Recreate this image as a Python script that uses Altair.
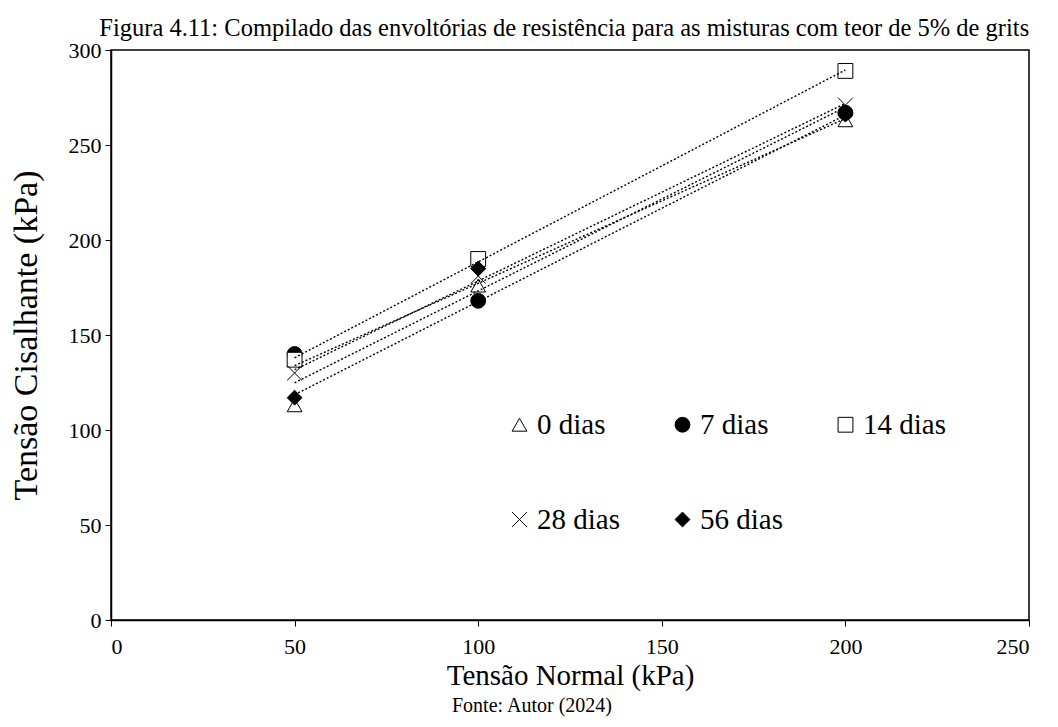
import altair as alt
import pandas as pd

# Data
tensao_normal = [50, 100, 200]
series_names = ["\u20090 dias", "\u20097 dias", "14 dias", "28 dias", "56 dias"]
dias_0 = [113, 176, 263]
dias_7 = [140, 168, 267]
dias_14 = [137, 190, 289]
dias_28 = [130, 181, 271]
dias_56 = [117, 185, 266]

values = [dias_0, dias_7, dias_14, dias_28, dias_56]
rows = []
for name, vals in zip(series_names, values):
    for xv, yv in zip(tensao_normal, vals):
        rows.append({"serie": name, "x": xv, "y": yv})
df = pd.DataFrame(rows)

FONT = "Liberation Serif"
X_SHAPE = "M-1,-1L1,1M-1,1L1,-1"

shape_scale = alt.Scale(domain=series_names,
                        range=["triangle-up", "circle", "square", X_SHAPE, "diamond"])
fill_scale = alt.Scale(domain=series_names,
                       range=["white", "black", "white", "transparent", "black"])
stroke_scale = alt.Scale(domain=series_names, range=["black"] * 5)

legend = alt.Legend(
    title=None, orient="none", legendX=394, legendY=360,
    direction="horizontal", columns=3,
    labelFont=FONT, labelFontSize=29, labelColor="black",
    symbolSize=220, symbolStrokeColor="black", symbolStrokeWidth=1,
    columnPadding=48, rowPadding=65, labelOffset=3,
)

x_enc = alt.X("x:Q", scale=alt.Scale(domain=[0, 250], nice=False),
              axis=alt.Axis(values=[0, 50, 100, 150, 200, 250], title="Tensão Normal (kPa)",
                            titleFontSize=29, titlePadding=4, labelFont=FONT,
                            titleFont=FONT, labelFontSize=22, labelPadding=10))
y_enc = alt.Y("y:Q", scale=alt.Scale(domain=[0, 300], nice=False),
              axis=alt.Axis(values=[0, 50, 100, 150, 200, 250, 300],
                            title="Tensão Cisalhante (kPa)", titleFontSize=34,
                            titlePadding=25, labelFont=FONT, titleFont=FONT,
                            labelFontSize=22, labelPadding=4))

base = alt.Chart(df)

points = base.mark_point(filled=True, size=220, strokeWidth=1, opacity=1).encode(
    x=x_enc, y=y_enc,
    shape=alt.Shape("serie:N", scale=shape_scale, legend=legend, sort=series_names),
    fill=alt.Fill("serie:N", scale=fill_scale, legend=legend, sort=series_names),
    stroke=alt.Stroke("serie:N", scale=stroke_scale, legend=legend, sort=series_names),
)

lines = base.transform_regression(
    "x", "y", groupby=["serie"], extent=[50, 200]
).mark_line(color="black", strokeDash=[2, 2], strokeWidth=1.4).encode(
    x="x:Q", y="y:Q", detail="serie:N"
)

inner = alt.layer(points, lines).properties(
    width=918, height=570,
    title=alt.TitleParams("Fonte: Autor (2024)", orient="bottom", fontSize=20,
                          font=FONT, fontWeight="normal", color="black", offset=6,
                          dx=-38),
)

chart = alt.vconcat(
    inner,
    title=alt.TitleParams("Figura 4.11: Compilado das envoltórias de resistência para as misturas com teor de 5% de grits",
                          fontSize=24.5, font=FONT, fontWeight="normal", color="black",
                          anchor="middle", offset=-3, dx=45),
    padding={"top": 7, "left": 0, "right": 0, "bottom": 0},
).configure_view(
    stroke="black", strokeWidth=1.5
).configure_axis(
    grid=False,
    labelColor="black", titleColor="black", titleFontWeight="normal",
    domainColor="black", domainWidth=1.5, tickColor="black", tickSize=6,
).configure_concat(spacing=0)

chart.save("out.html", embed_options={"renderer": "svg", "actions": False})
